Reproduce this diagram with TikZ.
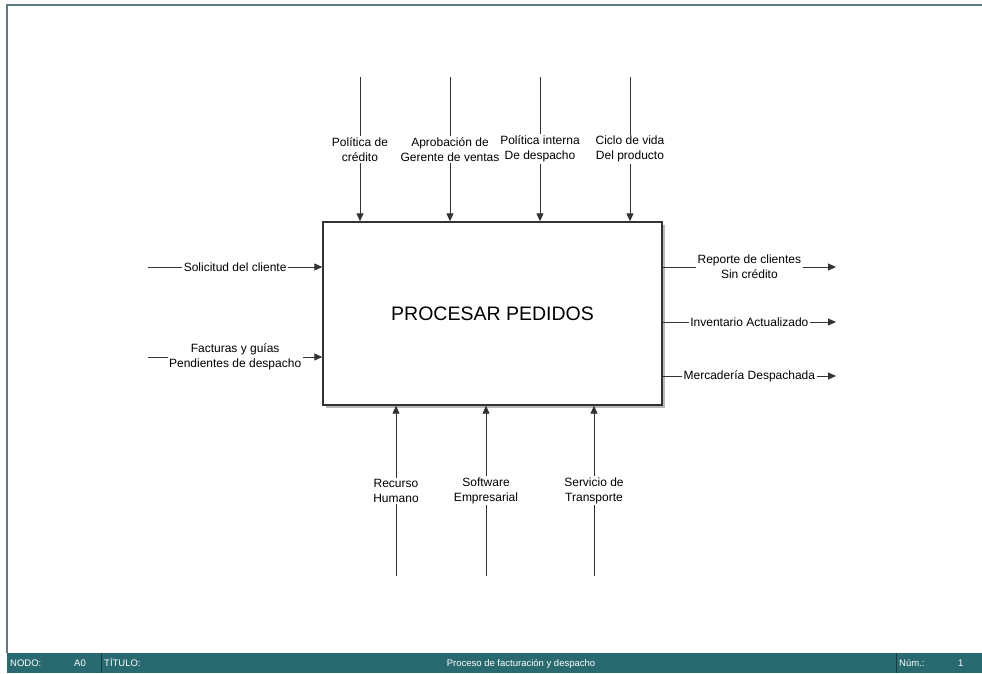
\documentclass[tikz,border=0pt]{standalone}
\usepackage{fontspec}
\setmainfont{Liberation Sans}
\usetikzlibrary{arrows.meta,shadows}
\definecolor{barteal}{RGB}{40,106,112}
\definecolor{frameline}{RGB}{96,120,126}
\begin{document}
\begin{tikzpicture}[x=1pt,y=-1pt,>={Triangle[length=8pt,width=7pt]}]
\tikzset{flow/.style={->,line width=0.9pt,draw=black!80}, lbl/.style={fill=white,inner sep=1.5pt,align=center,font=\fontsize{12}{15}\selectfont}, bartxt/.style={text=white,font=\fontsize{9.5}{11}\selectfont,anchor=base west,inner sep=0pt}, sep/.style={draw=barteal!55!black,line width=1pt}}
\useasboundingbox (0,0) rectangle (982,673);
\fill[white] (0,0) rectangle (982,673);
% Sheet frame and title bar along the bottom.
\draw[frameline,line width=1.5pt] (7,653) -- (7,5) -- (982,5);
\fill[barteal] (7,653) rectangle (982,673);
\draw[sep] (101,653) -- (101,673);
\draw[sep] (896,653) -- (896,673);
\node[bartxt] (nodo) at (10,666.5) {NODO:};
\node[bartxt] (nodoval) at (74,666.5) {A0};
\node[bartxt] (titulo) at (104,666.5) {TÍTULO:};
\node[bartxt,anchor=base] (tituloval) at (521,666.5) {Proceso de facturación y despacho};
\node[bartxt] (num) at (899,666.5) {Núm.:};
\node[bartxt] (numval) at (958,666.5) {1};
% Activity box.
\node[draw=black!80,line width=1.4pt,fill=white,minimum width=339pt,minimum height=183pt,drop shadow={shadow xshift=2.5pt,shadow yshift=-3pt,fill=black!55},font=\fontsize{19.5}{23}\selectfont] (proc) at (492.5,313.5) {PROCESAR PEDIDOS};
% Controls enter from above.
\foreach \x/\t [count=\i] in {360/{Política de\\crédito},450/{Aprobación de\\Gerente de ventas},540/{Política interna\\De despacho},630/{Ciclo de vida\\Del producto}}{\coordinate (ctl\i) at (\x,77); \draw[flow] (ctl\i) -- node[lbl] (ctllbl\i) {\t} (ctl\i |- proc.north);}
% Inputs from the left, outputs to the right.
\foreach \y/\t [count=\i] in {267/{Solicitud del cliente},357/{Facturas y guías\\Pendientes de despacho}}{\coordinate (in\i) at (148,\y); \draw[flow] (in\i) -- node[lbl] (inlbl\i) {\t} (in\i -| proc.west);}
\foreach \y/\t [count=\i] in {267/{Reporte de clientes\\Sin crédito},322/{Inventario Actualizado},376/{Mercadería Despachada}}{\coordinate (out\i) at (836,\y); \draw[flow] (out\i -| proc.east) -- node[lbl] (outlbl\i) {\t} (out\i);}
% Mechanisms come up from below.
\foreach \x/\t [count=\i] in {396/{Recurso\\Humano},486/{Software\\Empresarial},594/{Servicio de\\Transporte}}{\coordinate (mec\i) at (\x,576); \draw[flow] (mec\i) -- node[lbl] (meclbl\i) {\t} (mec\i |- proc.south);}
\end{tikzpicture}
\end{document}
